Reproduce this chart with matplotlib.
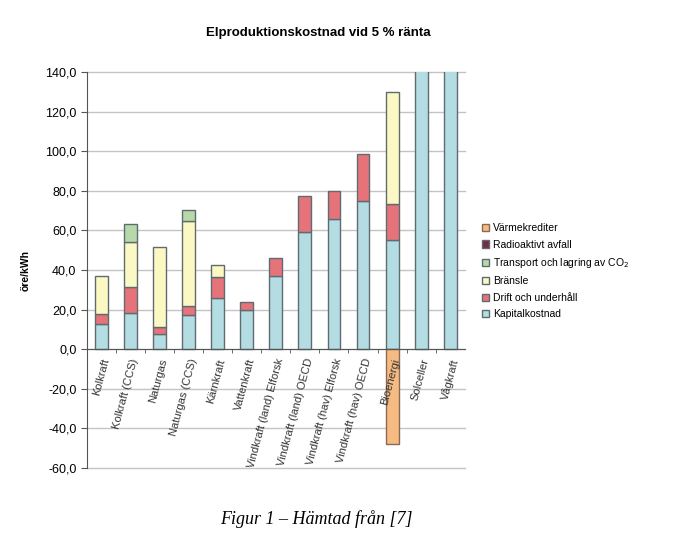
import matplotlib.pyplot as plt
import numpy as np
from matplotlib.patches import Patch
from matplotlib.ticker import FuncFormatter, MultipleLocator

plt.rcParams["font.family"] = ["Liberation Sans", "DejaVu Sans"]

categories = ["Kolkraft", "Kolkraft (CCS)", "Naturgas", "Naturgas (CCS)", "Kärnkraft",
              "Vattenkraft", "Vindkraft (land) Elforsk", "Vindkraft (land) OECD",
              "Vindkraft (hav) Elforsk", "Vindkraft (hav) OECD", "Bioenergi",
              "Solceller", "Vågkraft"]

# öre/kWh (Solceller/Vågkraft run past the top of the axis)
kapital = [12.5, 18.5, 7.5, 17.5, 25.8, 20.0, 37.0, 59.2, 65.8, 75.0, 55.0, 160.0, 160.0]
drift = [5.5, 13.0, 3.7, 4.5, 10.5, 3.7, 9.3, 18.0, 14.3, 23.5, 18.5, 0, 0]
bransle = [19.0, 22.5, 40.3, 42.6, 6.2, 0, 0, 0, 0, 0, 56.6, 0, 0]
transport = [0, 9.0, 0, 5.9, 0, 0, 0, 0, 0, 0, 0, 0, 0]
radioaktivt = [0, 0, 0, 0, 0, 0, 0, 0, 0, 0, 0, 0, 0]
varmekrediter = [0, 0, 0, 0, 0, 0, 0, 0, 0, 0, -48.0, 0, 0]

series = [
    ("Kapitalkostnad", kapital, "#b3dde3"),
    ("Drift och underhåll", drift, "#e6737a"),
    ("Bränsle", bransle, "#fbf8c4"),
    ("Transport och lagring av CO$_2$", transport, "#b7d9a9"),
    ("Radioaktivt avfall", radioaktivt, "#7a2a48"),
]

fig = plt.figure(figsize=(7.0, 5.37), dpi=100)
ax = fig.add_axes([0.124, 0.1285, 0.54, 0.7374])
ax.set_axisbelow(False)  # tick labels on top of the bars (Bioenergi)

x = np.arange(len(categories))
width = 0.44
edge = "#5f6b70"

for yv in range(-60, 141, 20):
    ax.axhline(yv, color="#c4c4c4", linewidth=1.0, zorder=0.5, clip_on=False)

bottom = np.zeros(len(categories))
for name, vals, col in series:
    vals = np.array(vals, dtype=float)
    mask = vals > 0
    ax.bar(x[mask], vals[mask], width, bottom=bottom[mask], color=col,
           edgecolor=edge, linewidth=1.0, zorder=2)
    bottom += vals
neg = np.array(varmekrediter, dtype=float)
mask = neg < 0
ax.bar(x[mask], neg[mask], width, color="#f5bb82", edgecolor="#8a6a50", linewidth=1.0, zorder=2)

ax.set_xlim(-0.5, len(categories) - 0.5)
ax.set_ylim(-60, 140)
ax.yaxis.set_major_locator(MultipleLocator(20))
ax.yaxis.set_major_formatter(FuncFormatter(lambda v, p: f"{v:.1f}".replace(".", ",")))
ax.tick_params(axis="y", labelsize=9, length=4, color="#555555")

ax.spines["top"].set_visible(False)
ax.spines["right"].set_visible(False)
ax.spines["left"].set_color("#555555")
ax.spines["bottom"].set_position(("data", 0))
ax.spines["bottom"].set_color("#555555")

ax.set_xticks(x)
ax.set_xticklabels(categories, rotation=75, ha="right", va="top",
                   rotation_mode="anchor", fontsize=8, color="#333333")
ax.tick_params(axis="x", length=0, pad=6)
ax.set_xticks(x[:-1] + 0.5, minor=True)
ax.tick_params(axis="x", which="minor", length=3, color="#555555")

ax.set_ylabel("öre/kWh", fontsize=7.5, fontweight="bold", labelpad=10)

fig.text(0.455, 0.938, "Elproduktionskostnad vid 5 % ränta", ha="center", va="center",
         fontsize=9.5, fontweight="bold")

handles = [Patch(facecolor="#f5bb82", edgecolor="#8a6a50", label="Värmekrediter")]
for name, vals, col in reversed(series):
    handles.append(Patch(facecolor=col, edgecolor=edge, label=name))
fig.legend(handles=handles, loc="upper left", bbox_to_anchor=(0.675, 0.602),
           frameon=False, fontsize=7.5, handlelength=0.7, handleheight=0.7,
           handletextpad=0.4, labelspacing=0.62)

fig.text(0.452, 0.033, "Figur 1 – Hämtad från [7]", ha="center", va="center",
         fontsize=13, style="italic", family=["Liberation Serif", "DejaVu Serif"])

fig.savefig("out.png", dpi=100)
